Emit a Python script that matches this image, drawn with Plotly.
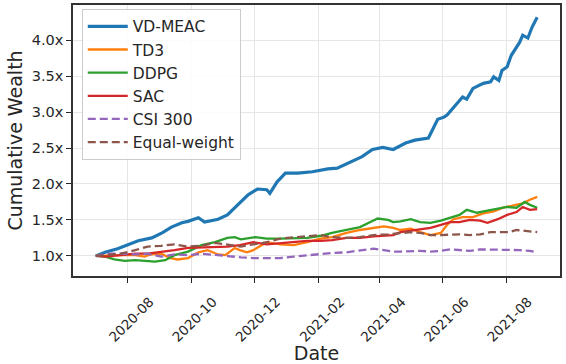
import plotly.graph_objects as go

# ---- data ----
vd_dates = ["2020-07-01","2020-07-10","2020-07-22","2020-08-01","2020-08-11","2020-08-24","2020-09-03",
            "2020-09-12","2020-09-22","2020-09-28","2020-10-08","2020-10-14","2020-10-27","2020-11-05",
            "2020-11-15","2020-11-25","2020-12-04","2020-12-13","2020-12-16","2020-12-23","2020-12-31",
            "2021-01-12","2021-01-26","2021-02-10","2021-02-19","2021-03-05","2021-03-15","2021-03-25",
            "2021-04-04","2021-04-14","2021-04-26","2021-05-05","2021-05-15","2021-05-18","2021-05-27",
            "2021-06-02","2021-06-05","2021-06-15","2021-06-20","2021-06-24","2021-06-30","2021-07-10",
            "2021-07-17","2021-07-20","2021-07-25","2021-07-28","2021-08-02","2021-08-06","2021-08-14",
            "2021-08-17","2021-08-22","2021-08-26","2021-08-31"]
vd_vals = [1.00,1.05,1.10,1.15,1.21,1.25,1.32,
           1.40,1.46,1.48,1.53,1.47,1.51,1.57,
           1.71,1.85,1.93,1.92,1.87,2.03,2.15,
           2.15,2.17,2.21,2.22,2.31,2.38,2.48,
           2.51,2.48,2.57,2.61,2.64,2.64,2.90,
           2.93,2.96,3.13,3.21,3.18,3.33,3.40,
           3.42,3.49,3.44,3.58,3.63,3.79,3.97,
           4.07,4.03,4.18,4.32]

td3_dates = ["2020-07-01","2020-07-13","2020-07-25","2020-08-08","2020-08-17","2020-08-23","2020-09-02",
             "2020-09-11","2020-09-18","2020-09-28","2020-10-08","2020-10-17","2020-10-27","2020-11-03",
             "2020-11-12","2020-11-17","2020-11-24","2020-11-30","2020-12-13","2020-12-26","2021-01-08",
             "2021-01-21","2021-02-03","2021-02-14","2021-02-28","2021-03-13","2021-03-26","2021-04-05",
             "2021-04-14","2021-04-21","2021-05-01","2021-05-10","2021-05-20","2021-05-30","2021-06-05",
             "2021-06-11","2021-06-20","2021-06-30","2021-07-10","2021-07-20","2021-07-29","2021-08-07",
             "2021-08-17","2021-08-24","2021-08-31"]
td3_vals = [1.00,1.01,1.01,1.01,0.99,1.02,1.03,
            0.97,0.95,0.97,1.05,1.08,1.02,1.01,
            1.11,1.08,1.05,1.08,1.19,1.16,1.15,
            1.19,1.24,1.26,1.32,1.36,1.39,1.41,
            1.39,1.36,1.38,1.33,1.29,1.32,1.43,
            1.51,1.54,1.54,1.59,1.62,1.67,1.70,
            1.73,1.78,1.82]

ddpg_dates = ["2020-07-01","2020-07-10","2020-07-19","2020-07-29","2020-08-08","2020-08-17","2020-08-27",
              "2020-09-06","2020-09-15","2020-09-28","2020-10-11","2020-10-24","2020-11-05","2020-11-12",
              "2020-11-18","2020-12-02","2020-12-13","2020-12-26","2021-01-08","2021-01-21","2021-02-03",
              "2021-02-14","2021-02-28","2021-03-13","2021-03-23","2021-03-30","2021-04-09","2021-04-14",
              "2021-04-21","2021-05-01","2021-05-10","2021-05-20","2021-05-30","2021-06-08","2021-06-17",
              "2021-06-24","2021-07-04","2021-07-14","2021-07-24","2021-08-02","2021-08-11","2021-08-19",
              "2021-08-24","2021-08-31"]
ddpg_vals = [1.00,0.99,0.95,0.93,0.94,0.93,0.92,
             0.94,1.01,1.06,1.15,1.19,1.25,1.26,
             1.23,1.26,1.24,1.24,1.25,1.25,1.28,
             1.32,1.36,1.40,1.47,1.52,1.50,1.47,
             1.48,1.51,1.47,1.46,1.49,1.53,1.57,
             1.64,1.60,1.63,1.66,1.68,1.67,1.75,
             1.71,1.67]

sac_dates = ["2020-07-01","2020-07-10","2020-07-25","2020-08-08","2020-08-20","2020-09-02","2020-09-15",
             "2020-09-28","2020-10-11","2020-10-24","2020-11-05","2020-11-17","2020-11-30","2020-12-13",
             "2020-12-26","2021-01-08","2021-01-21","2021-02-03","2021-02-14","2021-02-28","2021-03-13",
             "2021-03-26","2021-04-09","2021-04-14","2021-04-21","2021-05-01","2021-05-10","2021-05-20",
             "2021-05-30","2021-06-08","2021-06-17","2021-06-27","2021-07-07","2021-07-14","2021-07-24",
             "2021-08-02","2021-08-11","2021-08-17","2021-08-24","2021-08-31"]
sac_vals = [1.00,0.99,1.01,1.03,1.03,1.05,1.08,
            1.11,1.12,1.13,1.13,1.15,1.19,1.16,
            1.18,1.19,1.21,1.21,1.22,1.25,1.25,
            1.27,1.28,1.29,1.33,1.35,1.36,1.39,
            1.43,1.47,1.47,1.50,1.49,1.46,1.51,
            1.57,1.61,1.68,1.64,1.65]

csi_dates = ["2020-07-01","2020-07-13","2020-07-25","2020-08-08","2020-08-20","2020-09-02","2020-09-15",
             "2020-09-28","2020-10-11","2020-10-24","2020-11-05","2020-11-18","2020-11-30","2020-12-13",
             "2020-12-26","2021-01-08","2021-01-21","2021-02-03","2021-02-14","2021-02-28","2021-03-13",
             "2021-03-26","2021-04-05","2021-04-14","2021-04-21","2021-05-01","2021-05-10","2021-05-20",
             "2021-05-30","2021-06-08","2021-06-17","2021-06-27","2021-07-07","2021-07-17","2021-07-27",
             "2021-08-04","2021-08-14","2021-08-24","2021-08-31"]
csi_vals = [1.00,1.03,1.03,1.02,1.03,0.99,1.02,
            1.01,1.03,1.01,0.99,0.98,0.97,0.97,
            0.97,0.99,1.01,1.02,1.04,1.05,1.07,
            1.10,1.08,1.06,1.06,1.07,1.07,1.06,
            1.07,1.09,1.08,1.07,1.09,1.09,1.09,
            1.08,1.08,1.07,1.05]

ew_dates = ["2020-07-01","2020-07-13","2020-07-25","2020-08-08","2020-08-20","2020-09-02","2020-09-15",
            "2020-09-28","2020-10-11","2020-10-24","2020-11-05","2020-11-18","2020-11-30","2020-12-13",
            "2020-12-26","2021-01-08","2021-01-21","2021-02-03","2021-02-14","2021-02-28","2021-03-13",
            "2021-03-26","2021-04-09","2021-04-21","2021-05-01","2021-05-10","2021-05-20","2021-05-30",
            "2021-06-08","2021-06-17","2021-06-27","2021-07-07","2021-07-17","2021-07-27","2021-08-04",
            "2021-08-11","2021-08-17","2021-08-31"]
ew_vals = [1.00,1.01,1.03,1.08,1.13,1.14,1.16,
           1.13,1.14,1.18,1.16,1.13,1.16,1.19,
           1.24,1.26,1.27,1.29,1.26,1.25,1.26,
           1.29,1.30,1.32,1.33,1.32,1.29,1.29,
           1.30,1.30,1.29,1.30,1.33,1.33,1.33,
           1.36,1.35,1.33]

y_ticks = [1.0, 1.5, 2.0, 2.5, 3.0, 3.5, 4.0]
y_tick_labels = ["1.0x", "1.5x", "2.0x", "2.5x", "3.0x", "3.5x", "4.0x"]
x_ticks = ["2020-08-01","2020-10-01","2020-12-01","2021-02-01","2021-04-01","2021-06-01","2021-08-01"]
x_tick_labels = ["2020-08","2020-10","2020-12","2021-02","2021-04","2021-06","2021-08"]

series = [
    ("VD-MEAC", vd_dates, vd_vals, "#1f77b4", 3.2, "solid"),
    ("TD3", td3_dates, td3_vals, "#ff7f0e", 2.3, "solid"),
    ("DDPG", ddpg_dates, ddpg_vals, "#2ca02c", 2.3, "solid"),
    ("SAC", sac_dates, sac_vals, "#d62728", 2.3, "solid"),
    ("CSI 300", csi_dates, csi_vals, "#9467bd", 2.3, "8px,4px"),
    ("Equal-weight", ew_dates, ew_vals, "#8c564b", 2.3, "8px,4px"),
]

fig = go.Figure()
for name, d, v, c, w, dash in series:
    fig.add_trace(go.Scatter(x=d, y=v, mode="lines", name=name,
                             line=dict(color=c, width=w, dash=dash)))

font_family = "DejaVu Sans"
text_color = "#262626"
fig.update_layout(
    width=566, height=364,
    margin=dict(l=73, r=6, t=5, b=88, autoexpand=False),
    paper_bgcolor="white", plot_bgcolor="white",
    font=dict(family=font_family, color=text_color),
    showlegend=True,
    legend=dict(x=0.018, y=0.986, xanchor="left", yanchor="top",
                bgcolor="rgba(255,255,255,0.85)", bordercolor="#cccccc", borderwidth=1,
                font=dict(size=15.5, family=font_family, color=text_color),
                itemwidth=40, tracegroupgap=0),
)
fig.update_xaxes(
    type="date", range=["2020-06-09", "2021-09-22"], automargin=False,
    tickmode="array", tickvals=x_ticks, ticktext=x_tick_labels, tickangle=-45,
    tickfont=dict(size=13.5, family=font_family, color=text_color),
    ticklabelstandoff=6, ticklabelshift=22,
    ticks="outside", ticklen=5, tickwidth=1.2, tickcolor=text_color,
    showgrid=True, gridcolor="#e6e6e6", gridwidth=1,
    showline=True, linecolor="#333333", linewidth=1.5, mirror=True,
    title=dict(text="Date", font=dict(size=19, family=font_family, color=text_color), standoff=4),
    zeroline=False,
)
fig.update_yaxes(
    range=[0.72, 4.49], automargin=False,
    tickmode="array", tickvals=y_ticks, ticktext=y_tick_labels,
    tickfont=dict(size=14.5, family=font_family, color=text_color),
    ticks="outside", ticklen=5, tickwidth=1.2, tickcolor=text_color,
    showgrid=True, gridcolor="#e6e6e6", gridwidth=1,
    showline=True, linecolor="#333333", linewidth=1.5, mirror=True,
    title=dict(text="Cumulative Wealth", font=dict(size=19, family=font_family, color=text_color), standoff=4),
    zeroline=False,
)

fig.write_html("out.html")
